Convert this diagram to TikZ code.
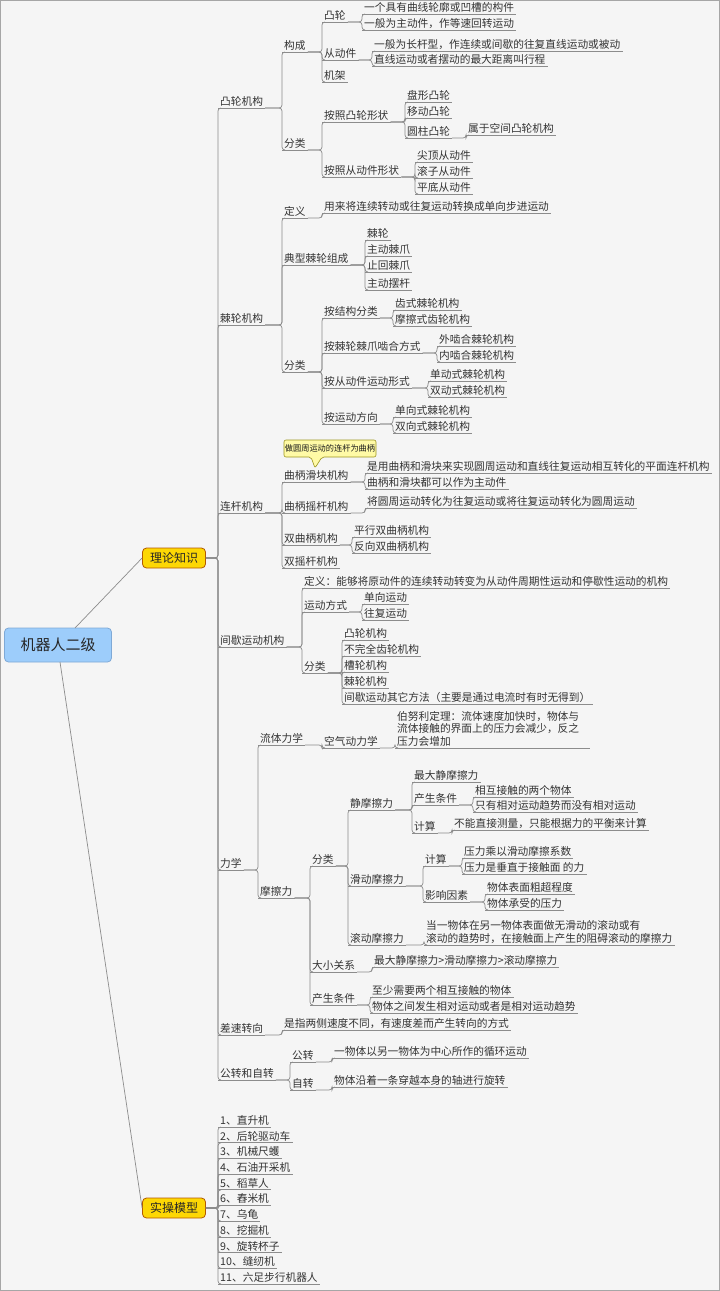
\documentclass[tikz,border=0pt]{standalone}
\usepackage{fontspec}
\setmainfont{Noto Sans CJK SC}
\begin{document}
\begin{tikzpicture}[x=1pt,y=-1pt,
  t/.style={anchor=south west,inner xsep=2pt,inner ysep=1.5pt,font=\fontsize{10.7}{12.5}\selectfont,text=black!80},
  ln/.style={draw=black!45,line width=0.7pt},
  tp/.style={rounded corners=4pt,line width=0.8pt}]
\useasboundingbox (0,0) rectangle (720,1291);
\fill[black!4] (0,0) rectangle (720,1291);
\draw[black!35] (0.5,0.5) rectangle (719.5,1290.5);
\definecolor{rootblue}{HTML}{9DCDFB}
\definecolor{rootedge}{HTML}{7FA9D6}
\newcommand\N[4]{\node[t] (#1) at (#2,#3) {#4};\draw[ln] (#1.south west)--(#1.south east);}
\newcommand\E[2]{\draw[ln,rounded corners=3pt] (#1.south east) -| (#2.south west) -- ([xshift=3pt]#2.south west);}
\newcommand\EB[2]{\draw[ln,rounded corners=3pt] (#1.east) -| (#2.south west) -- ([xshift=3pt]#2.south west);}
% root and main topics
\node[tp,draw=rootedge,fill=rootblue,minimum width=107,minimum height=34,font=\fontsize{15}{18}\selectfont,text=black!85] (root) at (58,645) {机器人二级};
\node[tp,draw=orange!70!black,fill=yellow!75!orange,minimum width=63,minimum height=20,font=\fontsize{12}{14}\selectfont,text=black!85] (ll) at (174,558) {理论知识};
\node[tp,draw=orange!70!black,fill=yellow!75!orange,minimum width=63,minimum height=20,font=\fontsize{12}{14}\selectfont,text=black!85] (sc) at (174,1208) {实操模型};
\draw[ln] (75,628) -- (ll.west);
\draw[ln] (60,662) -- (sc.west);
% 凸轮机构
\N{a}{218}{108}{凸轮机构}
\N{a1}{282}{52}{构成}
\N{a2}{282}{150}{分类}
\N{a11}{322}{22}{凸轮}
\N{a12}{322}{60}{从动件}
\N{a13}{322}{82}{机架}
\N{a111}{362}{14}{一个具有曲线轮廓或凹槽的构件}
\N{a112}{362}{30}{一般为主动件，作等速回转运动}
\N{a121}{372}{51}{一般为长杆型，作连续或间歇的往复直线运动或被动}
\N{a122}{372}{66}{直线运动或者摆动的最大距离叫行程}
\N{a21}{322}{122}{按照凸轮形状}
\N{a22}{322}{177}{按照从动件形状}
\N{a211}{405}{102}{盘形凸轮}
\N{a212}{405}{118}{移动凸轮}
\N{a213}{405}{138}{圆柱凸轮}
\N{a2131}{466}{135}{属于空间凸轮机构}
\N{a221}{415}{162}{尖顶从动件}
\N{a222}{415}{178}{滚子从动件}
\N{a223}{415}{194}{平底从动件}
\EB{ll}{a}\E{a}{a1}\E{a}{a2}\E{a1}{a11}\E{a1}{a12}\E{a1}{a13}
\E{a11}{a111}\E{a11}{a112}\E{a12}{a121}\E{a12}{a122}
\E{a2}{a21}\E{a2}{a22}\E{a21}{a211}\E{a21}{a212}\E{a21}{a213}\E{a213}{a2131}
\E{a22}{a221}\E{a22}{a222}\E{a22}{a223}
% 棘轮机构
\N{b}{218}{325}{棘轮机构}
\N{b1}{282}{218}{定义}
\N{b2}{282}{265}{典型棘轮组成}
\N{b3}{282}{372}{分类}
\N{b11}{322}{213}{用来将连续转动或往复运动转换成单向步进运动}
\N{b21}{365}{240}{棘轮}
\N{b22}{365}{256}{主动棘爪}
\N{b23}{365}{272}{止回棘爪}
\N{b24}{365}{290}{主动摆杆}
\N{b31}{322}{318}{按结构分类}
\N{b32}{322}{353}{按棘轮棘爪啮合方式}
\N{b33}{322}{388}{按从动件运动形式}
\N{b34}{322}{424}{按运动方向}
\N{b311}{393}{310}{齿式棘轮机构}
\N{b312}{393}{326}{摩擦式齿轮机构}
\N{b321}{437}{346}{外啮合棘轮机构}
\N{b322}{437}{362}{内啮合棘轮机构}
\N{b331}{428}{381}{单动式棘轮机构}
\N{b332}{428}{397}{双动式棘轮机构}
\N{b341}{393}{417}{单向式棘轮机构}
\N{b342}{393}{433}{双向式棘轮机构}
\EB{ll}{b}\E{b}{b1}\E{b}{b2}\E{b}{b3}\E{b1}{b11}
\E{b2}{b21}\E{b2}{b22}\E{b2}{b23}\E{b2}{b24}
\E{b3}{b31}\E{b3}{b32}\E{b3}{b33}\E{b3}{b34}
\E{b31}{b311}\E{b31}{b312}\E{b32}{b321}\E{b32}{b322}
\E{b33}{b331}\E{b33}{b332}\E{b34}{b341}\E{b34}{b342}
% 连杆机构
\N{c}{218}{513}{连杆机构}
\N{c1}{282}{482}{曲柄滑块机构}
\N{c2}{282}{513}{曲柄摇杆机构}
\N{c3}{282}{545}{双曲柄机构}
\N{c4}{282}{568}{双摇杆机构}
\N{c11}{365}{473}{是用曲柄和滑块来实现圆周运动和直线往复运动相互转化的平面连杆机构}
\N{c12}{365}{489}{曲柄和滑块都可以作为主动件}
\N{c21}{365}{508}{将圆周运动转化为往复运动或将往复运动转化为圆周运动}
\N{c31}{352}{537}{平行双曲柄机构}
\N{c32}{352}{553}{反向双曲柄机构}
\EB{ll}{c}\E{c}{c1}\E{c}{c2}\E{c}{c3}\E{c}{c4}
\E{c1}{c11}\E{c1}{c12}\E{c2}{c21}\E{c3}{c31}\E{c3}{c32}
\draw[draw=olive!60!yellow!80!black,fill=yellow!35,rounded corners=2pt,line width=0.6pt]
  (284,440) -- (376,440) -- (376,457) -- (322,457) -- (315,468) -- (311,457) -- (284,457) -- cycle;
\node[font=\fontsize{8.2}{10}\selectfont,text=black!90] (call) at (330,448.5) {做圆周运动的连杆为曲柄};
% 间歇运动机构
\N{d}{218}{647}{间歇运动机构}
\N{d1}{302}{588}{定义：能够将原动件的连续转动转变为从动件周期性运动和停歇性运动的机构}
\N{d2}{302}{612}{运动方式}
\N{d3}{302}{673}{分类}
\N{d21}{362}{604}{单向运动}
\N{d22}{362}{620}{往复运动}
\N{d31}{342}{640}{凸轮机构}
\N{d32}{342}{656}{不完全齿轮机构}
\N{d33}{342}{672}{槽轮机构}
\N{d34}{342}{688}{棘轮机构}
\N{d35}{342}{704}{间歇运动其它方法（主要是通过电流时有时无得到）}
\EB{ll}{d}\E{d}{d1}\E{d}{d2}\E{d}{d3}\E{d2}{d21}\E{d2}{d22}
\E{d3}{d31}\E{d3}{d32}\E{d3}{d33}\E{d3}{d34}\E{d3}{d35}
% 力学
\N{e}{218}{870}{力学}
\N{e1}{258}{745}{流体力学}
\N{e2}{258}{898}{摩擦力}
\N{e11}{322}{748}{空气动力学}
\node[t,align=left] (e111) at (395,748) {伯努利定理：流体速度加快时，物体与\\流体接触的界面上的压力会减少，反之\\压力会增加};
\draw[ln] (e111.south west) -- ++(195,0);
\N{e21}{310}{866}{分类}
\N{e22}{310}{972}{大小关系}
\N{e23}{310}{1005}{产生条件}
\N{e211}{348}{810}{静摩擦力}
\N{e212}{348}{886}{滑动摩擦力}
\N{e213}{348}{945}{滚动摩擦力}
\N{e2111}{412}{782}{最大静摩擦力}
\N{e2112}{412}{805}{产生条件}
\N{e2113}{412}{833}{计算}
\N{e21121}{473}{797}{相互接触的两个物体}
\N{e21122}{473}{812}{只有相对运动趋势而没有相对运动}
\N{e21131}{452}{830}{不能直接测量，只能根据力的平衡来计算}
\N{e2121}{423}{866}{计算}
\N{e2122}{423}{902}{影响因素}
\N{e21211}{462}{858}{压力乘以滑动摩擦系数}
\N{e21212}{462}{874}{压力是垂直于接触面 的力}
\N{e21221}{485}{894}{物体表面粗超程度}
\N{e21222}{485}{910}{物体承受的压力}
\node[t,align=left] (e2131) at (424,945) {当一物体在另一物体表面做无滑动的滚动或有\\滚动的趋势时，在接触面上产生的阻碍滚动的摩擦力};
\draw[ln] (e2131.south west) -- (e2131.south east);
\N{e221}{372}{967}{最大静摩擦力>滑动摩擦力>滚动摩擦力}
\N{e231}{370}{997}{至少需要两个相互接触的物体}
\N{e232}{370}{1013}{物体之间发生相对运动或者是相对运动趋势}
\EB{ll}{e}\E{e}{e1}\E{e}{e2}\E{e1}{e11}\E{e11}{e111}
\E{e2}{e21}\E{e2}{e22}\E{e2}{e23}
\E{e21}{e211}\E{e21}{e212}\E{e21}{e213}
\E{e211}{e2111}\E{e211}{e2112}\E{e211}{e2113}
\E{e2112}{e21121}\E{e2112}{e21122}\E{e2113}{e21131}
\E{e212}{e2121}\E{e212}{e2122}
\E{e2121}{e21211}\E{e2121}{e21212}\E{e2122}{e21221}\E{e2122}{e21222}
\E{e213}{e2131}\E{e22}{e221}\E{e23}{e231}\E{e23}{e232}
% 差速转向, 公转和自转
\N{f}{218}{1035}{差速转向}
\N{f1}{282}{1030}{是指两侧速度不同，有速度差而产生转向的方式}
\N{g}{218}{1080}{公转和自转}
\N{g1}{290}{1062}{公转}
\N{g2}{290}{1090}{自转}
\N{g11}{332}{1058}{一物体以另一物体为中心所作的循环运动}
\N{g21}{332}{1087}{物体沿着一条穿越本身的轴进行旋转}
\EB{ll}{f}\E{f}{f1}\EB{ll}{g}\E{g}{g1}\E{g}{g2}\E{g1}{g11}\E{g2}{g21}
% 实操模型
\foreach \i/\s [count=\k from 0] in {1/直升机,2/后轮驱动车,3/机械尺蠖,4/石油开采机,5/稻草人,6/舂米机,7/乌龟,8/挖掘机,9/旋转杯子,10/缝纫机,11/六足步行机器人}{
  \node[t] (s\i) at (218,1127+15.7*\k) {\i、\s};
  \draw[ln] (s\i.south west)--(s\i.south east);
  \draw[ln,rounded corners=3pt] (sc.east) -| (s\i.south west) -- ([xshift=3pt]s\i.south west);
}
\end{tikzpicture}
\end{document}
